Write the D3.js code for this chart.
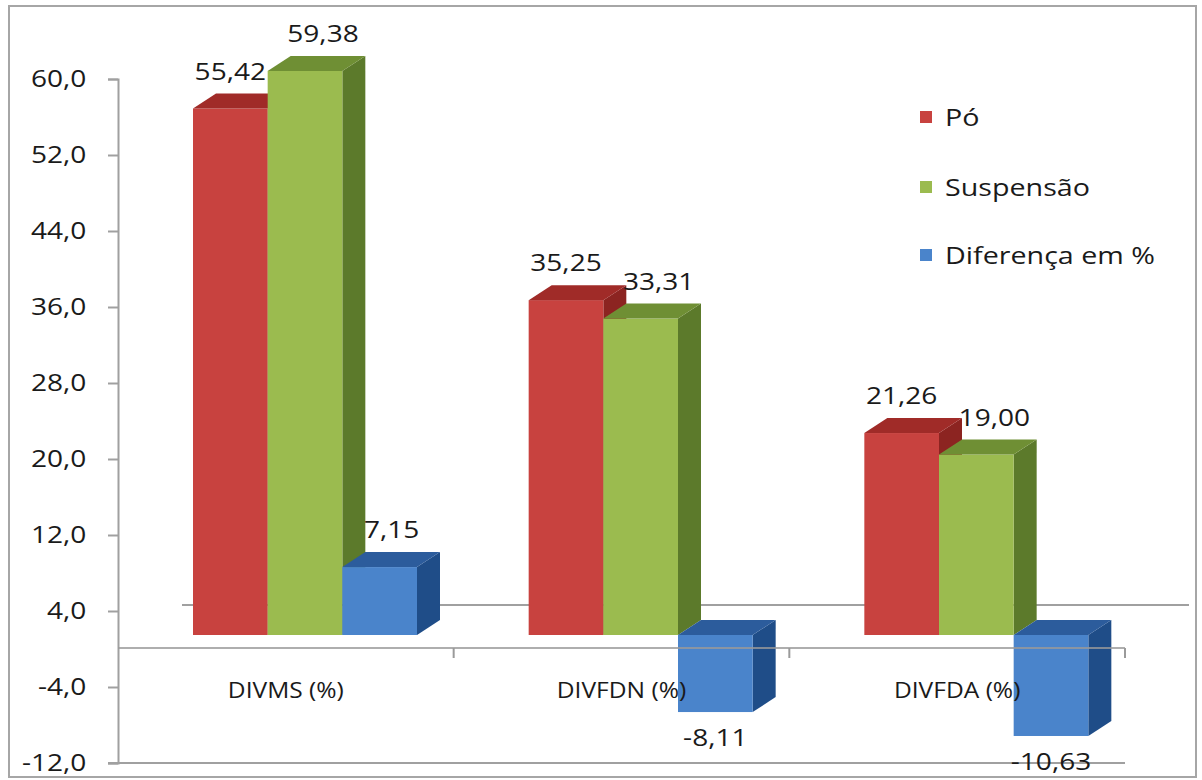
<!DOCTYPE html>
<html>
<head>
<meta charset="utf-8">
<script src="https://cdn.jsdelivr.net/npm/d3@7"></script>
<style>
  body { margin: 0; background: #fff; }
  text { font-family: "Open Sans", sans-serif; fill: #1a1a1a; }
</style>
</head>
<body>
<svg width="1202" height="780"></svg>
<script>
const categories = ["DIVMS (%)", "DIVFDN (%)", "DIVFDA (%)"];
const series = ["Pó", "Suspensão", "Diferença em %"];
const po = [55.42, 35.25, 21.26];
const suspensao = [59.38, 33.31, 19.00];
const diferenca = [7.15, -8.11, -10.63];
const yTicks = [60, 52, 44, 36, 28, 20, 12, 4, -4, -12];

const values = [po, suspensao, diferenca];
const colors = [
  { front: "#c8423f", top: "#a02b28", side: "#8c2421" },
  { front: "#9bbb4f", top: "#6f8f34", side: "#5c7a2b" },
  { front: "#4a84cb", top: "#2c5c9c", side: "#1f4d88" }
];
const stretch = 1.17;
const fmt = v => v.toFixed(2).replace(".", ",");

const svg = d3.select("svg");

svg.append("rect")
  .attr("x", 9).attr("y", 6).attr("width", 1187).attr("height", 771)
  .attr("fill", "#fff").attr("stroke", "#a6a6a6").attr("stroke-width", 2);

const y = d3.scaleLinear().domain([-12, 60]).range([763, 79]);
const x0 = d3.scaleBand().domain(categories).range([118, 1125]);
const x1 = d3.scaleBand().domain(series).range([56, 280]);

// 3D offsets: bar front plane and bar depth
const fx = 19, fy = -14;
const dx = 23, dy = -15;
// floor back edge offset
const bx = 64, by = -44;

// back floor line
svg.append("line")
  .attr("x1", 118 + bx).attr("x2", 1125 + bx)
  .attr("y1", y(0) + by).attr("y2", y(0) + by)
  .attr("stroke", "#a0a0a0").attr("stroke-width", 2);

// bottom line at -12
svg.append("line")
  .attr("x1", 108).attr("x2", 1125)
  .attr("y1", y(-12)).attr("y2", y(-12))
  .attr("stroke", "#a0a0a0").attr("stroke-width", 2);

// value axis
const yAxis = svg.append("g")
  .attr("transform", "translate(118,0)")
  .call(d3.axisLeft(y).tickValues(yTicks).tickSize(10).tickFormat(d => d.toFixed(1).replace(".", ",")));
yAxis.select(".domain").attr("stroke", "#a0a0a0").attr("stroke-width", 2);
yAxis.selectAll(".tick line").attr("stroke", "#a0a0a0").attr("stroke-width", 2);
yAxis.selectAll(".tick text")
  .attr("x", -27)
  .attr("transform", `scale(${stretch},1)`)
  .style("font-size", "24px")
  .style("font-family", "Open Sans, sans-serif")
  .attr("fill", "#1a1a1a");

// bars
const bars = [];
categories.forEach((c, i) => {
  series.forEach((s, j) => {
    bars.push({ cat: c, ser: s, j: j, v: values[j][i] });
  });
});

const g = svg.append("g");
bars.forEach(d => {
  const xl = x0(d.cat) + x1(d.ser) + fx;
  const w = x1.bandwidth();
  const yTop = Math.min(y(d.v), y(0)) + fy;
  const yBot = Math.max(y(d.v), y(0)) + fy;
  const col = colors[d.j];
  // side
  g.append("path")
    .attr("d", `M${xl + w},${yTop} L${xl + w + dx},${yTop + dy} L${xl + w + dx},${yBot + dy} L${xl + w},${yBot} Z`)
    .attr("fill", col.side);
  // front
  g.append("rect")
    .attr("x", xl).attr("y", yTop).attr("width", w).attr("height", yBot - yTop)
    .attr("fill", col.front);
  // top
  g.append("path")
    .attr("d", `M${xl},${yTop} L${xl + dx},${yTop + dy} L${xl + w + dx},${yTop + dy} L${xl + w},${yTop} Z`)
    .attr("fill", col.top);
});

// category axis (front floor edge), drawn over bars
svg.append("line")
  .attr("x1", 118).attr("x2", 1125)
  .attr("y1", y(0) - 1).attr("y2", y(0) - 1)
  .attr("stroke", "#9a9a9a").attr("stroke-width", 2).attr("opacity", 0.8);
categories.forEach(c => {
  const xt = x0(c) + x0.bandwidth();
  svg.append("line")
    .attr("x1", xt).attr("x2", xt)
    .attr("y1", y(0) - 1).attr("y2", y(0) + 9)
    .attr("stroke", "#9a9a9a").attr("stroke-width", 2);
});

// category labels
svg.selectAll(".cat")
  .data(categories)
  .enter().append("text")
  .attr("class", "cat")
  .attr("transform", d => `translate(${x0(d) + x0.bandwidth() / 2},690) scale(${stretch},1)`)
  .attr("text-anchor", "middle")
  .attr("dominant-baseline", "central")
  .style("font-size", "21px")
  .text(d => d);

// data labels
const labelDx = [0, 18, 12];
bars.forEach(d => {
  const off = d.v >= 0 ? labelDx[d.j] : 0;
  const xc = x0(d.cat) + x1(d.ser) + fx + x1.bandwidth() / 2 + off;
  const yc = d.v >= 0 ? y(d.v) + fy - 38 : y(d.v) + fy + 25;
  svg.append("text")
    .attr("transform", `translate(${xc},${yc}) scale(${stretch},1)`)
    .attr("text-anchor", "middle")
    .attr("dominant-baseline", "central")
    .style("font-size", "24px")
    .text(fmt(d.v));
});

// legend
const legY = [117, 187, 255];
series.forEach((s, j) => {
  svg.append("rect")
    .attr("x", 920).attr("y", legY[j] - 6).attr("width", 12).attr("height", 12)
    .attr("fill", colors[j].front);
  svg.append("text")
    .attr("transform", `translate(945,${legY[j]}) scale(${stretch},1)`)
    .attr("dominant-baseline", "central")
    .style("font-size", "24.5px")
    .text(s);
});
</script>
</body>
</html>
